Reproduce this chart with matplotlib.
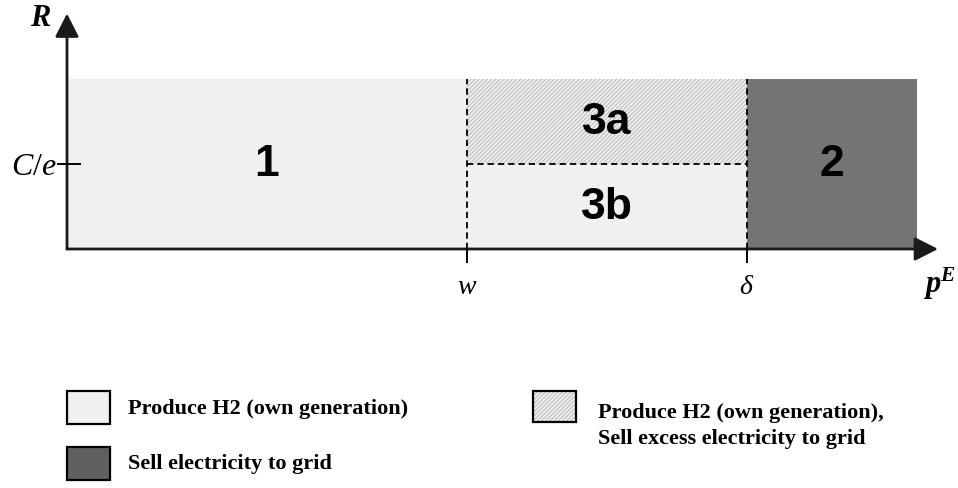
import matplotlib
matplotlib.use("Agg")
import matplotlib.pyplot as plt
from matplotlib.patches import Rectangle

plt.rcParams["mathtext.fontset"] = "custom"
plt.rcParams["mathtext.rm"] = "Liberation Serif"
plt.rcParams["mathtext.it"] = "Liberation Serif:italic"
plt.rcParams["mathtext.bf"] = "Liberation Serif:bold"
plt.rcParams["mathtext.bfit"] = "Liberation Serif:bold:italic"
plt.rcParams["hatch.linewidth"] = 0.5

# Price thresholds along the p^E axis: origin, w, delta, right end of the diagram
x_breaks = [0.0, 4.0, 6.8, 8.5]
x_tick_labels = ["", "$w$", "$\\delta$", ""]
# Levels along the R axis: zero, C/e, top of the diagram
y_levels = [0.0, 1.0, 2.0]
y_tick_label = "$C/e$"

# Regions: label, x-interval indices, y-interval indices, kind
region_names = ["1", "3a", "3b", "2"]
region_x = [(0, 1), (1, 2), (1, 2), (2, 3)]
region_y = [(0, 2), (1, 2), (0, 1), (0, 2)]
region_kind = ["own", "mixed", "own", "sell"]

legend_texts = {
    "own": "Produce H2 (own generation)",
    "mixed": "Produce H2 (own generation),\nSell excess electricity to grid",
    "sell": "Sell electricity to grid",
}

LIGHT = "#f0f0f0"
DARK = "#747474"
DARK_KEY = "#606060"
HATCH_FACE = "#eeeeee"
HATCH_EDGE = "#a6a6a6"

W, H = 958, 489
fig = plt.figure(figsize=(W / 100, H / 100), dpi=100)
ax = fig.add_axes([67 / W, 239 / H, 850 / W, 170 / H])
ax.set_xlim(x_breaks[0], x_breaks[-1])
ax.set_ylim(y_levels[0], y_levels[-1])
ax.axis("off")


def style_for(kind, key=False):
    if kind == "own":
        return dict(facecolor=LIGHT, edgecolor="none")
    if kind == "sell":
        return dict(facecolor=DARK_KEY if key else DARK, edgecolor="none")
    return dict(facecolor=HATCH_FACE, edgecolor=HATCH_EDGE, hatch="////////")


for name, (xi0, xi1), (yi0, yi1), kind in zip(region_names, region_x, region_y, region_kind):
    x0, x1 = x_breaks[xi0], x_breaks[xi1]
    y0, y1 = y_levels[yi0], y_levels[yi1]
    ax.add_patch(Rectangle((x0, y0), x1 - x0, y1 - y0, zorder=1, linewidth=0,
                           **style_for(kind)))
    ax.text((x0 + x1) / 2, (y0 + y1) / 2, name, ha="center", va="center", fontsize=32,
            fontweight="bold", family="Liberation Sans", zorder=5)

# Dashed boundaries of region 3
dash = (0, (3.5, 2.2))
for xb in x_breaks[1:3]:
    ax.plot([xb, xb], [y_levels[0], y_levels[-1]], color="black", lw=1.3, ls=dash, zorder=3)
ax.plot([x_breaks[1], x_breaks[2]], [y_levels[1], y_levels[1]], color="black", lw=1.3,
        ls=dash, zorder=3)

# Axes with arrow heads
arrow = dict(arrowstyle="-|>,head_length=0.55,head_width=0.28", mutation_scale=26,
             lw=2, color="#1a1a1a", shrinkA=0, shrinkB=0)
ax.annotate("", xy=(8.71, 0), xytext=(0, 0), arrowprops=arrow, annotation_clip=False, zorder=6)
ax.annotate("", xy=(0, 2.77), xytext=(0, 0), arrowprops=arrow, annotation_clip=False, zorder=6)

# Tick marks and tick labels
for xb, lab in zip(x_breaks, x_tick_labels):
    if lab:
        ax.plot([xb, xb], [0, -0.15], color="black", lw=1.4, clip_on=False, zorder=6)
        ax.text(xb, -0.42, lab, ha="center", va="center", fontsize=20, clip_on=False)
ax.plot([-0.09, 0.13], [y_levels[1], y_levels[1]], color="black", lw=1.4, clip_on=False,
        zorder=6)
ax.text(-0.1, y_levels[1] - 0.02, y_tick_label, ha="right", va="center", fontsize=23,
        clip_on=False)

# Axis names
ax.text(8.72, -0.4, r"$\mathbfit{p}^{\mathbfit{E}}$", ha="center", va="center", fontsize=22,
        clip_on=False)
ax.text(-0.26, 2.74, r"$\mathbfit{R}$", ha="center", va="center", fontsize=22, clip_on=False)


# Legend keys and texts at figure pixel positions (from the top-left corner)
def fig_box(kind, left, top, right, bottom):
    xy = (left / W, 1 - bottom / H)
    w, h = (right - left) / W, (bottom - top) / H
    fig.patches.append(Rectangle(xy, w, h, transform=fig.transFigure, linewidth=0,
                                 **style_for(kind, key=True)))
    fig.patches.append(Rectangle(xy, w, h, transform=fig.transFigure, facecolor="none",
                                 edgecolor="black", linewidth=1.6))


legend_layout = [("own", 67, 392, 110, 425, 128, 409),
                 ("sell", 67, 448, 110, 481, 128, 464),
                 ("mixed", 533, 392, 576, 423, 598, 426)]
for kind, l, t, r, b, tx, ty in legend_layout:
    fig_box(kind, l, t, r, b)
    fig.text(tx / W, 1 - ty / H, legend_texts[kind], ha="left", va="center",
             family="Liberation Serif", fontweight="bold", fontsize=16, linespacing=1.45)

fig.savefig("out.png", dpi=100)
